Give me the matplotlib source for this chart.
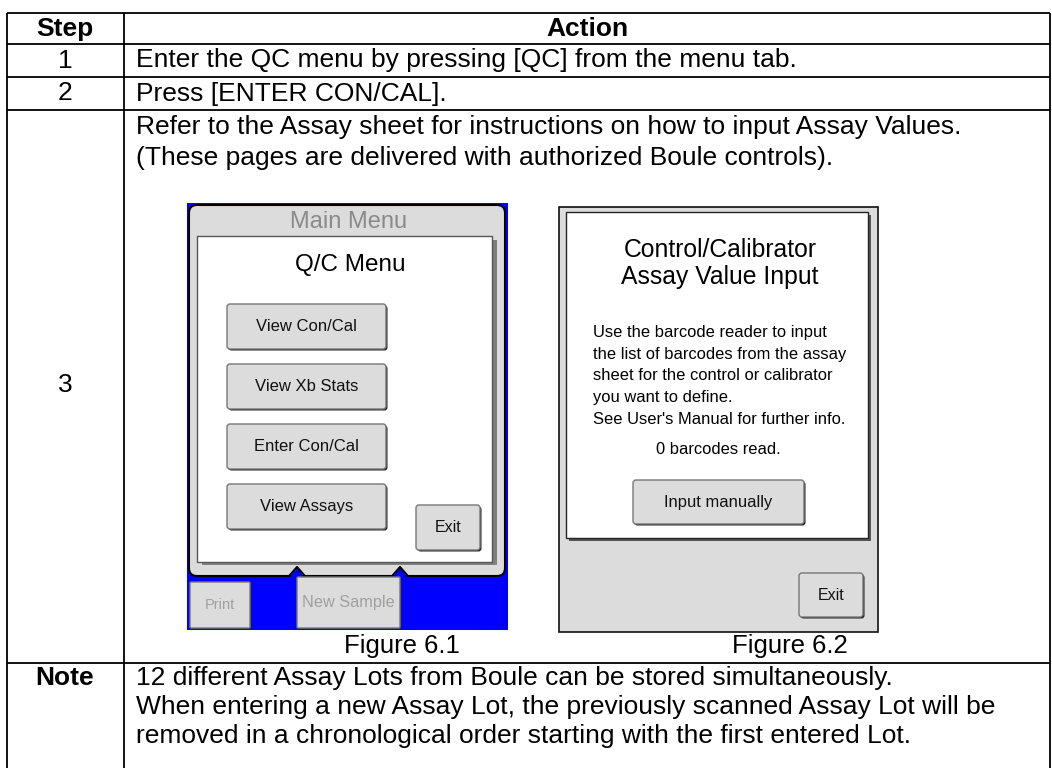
import matplotlib.pyplot as plt
from matplotlib.patches import FancyBboxPatch, Rectangle, Polygon

plt.rcParams['font.family'] = ['Liberation Sans', 'DejaVu Sans']

header = ["Step", "Action"]
steps = ["1", "2", "3"]
actions = [
    "Enter the QC menu by pressing [QC] from the menu tab.",
    "Press [ENTER CON/CAL].",
    "Refer to the Assay sheet for instructions on how to input Assay Values.\n"
    "(These pages are delivered with authorized Boule controls).",
]
note_label = "Note"
note_lines = [
    "12 different Assay Lots from Boule can be stored simultaneously.",
    "When entering a new Assay Lot, the previously scanned Assay Lot will be",
    "removed in a chronological order starting with the first entered Lot.",
]
captions = ["Figure 6.1", "Figure 6.2"]

qc_title = "Main Menu"
qc_menu = "Q/C Menu"
qc_buttons = ["View Con/Cal", "View Xb Stats", "Enter Con/Cal", "View Assays"]
qc_bottom = ["Print", "New Sample"]
exit_label = "Exit"

cal_title = ["Control/Calibrator", "Assay Value Input"]
cal_body = [
    "Use the barcode reader to input",
    "the list of barcodes from the assay",
    "sheet for the control or calibrator",
    "you want to define.",
]
cal_info = "See User's Manual for further info."
cal_count = "0 barcodes read."
cal_button = "Input manually"

GRAY = '#dcdcdc'


def button(ax, x0, y0, x1, y1, label, fs=12, color='#111111', r=3):
    # drop shadow + face
    ax.add_patch(FancyBboxPatch((x0 + 1.5, y0 + 1.5), x1 - x0, y1 - y0,
                                boxstyle=f"round,pad=0,rounding_size={r}",
                                fc='#222222', ec='none', zorder=4))
    ax.add_patch(FancyBboxPatch((x0, y0), x1 - x0, y1 - y0,
                                boxstyle=f"round,pad=0,rounding_size={r}",
                                fc=GRAY, ec='#777777', lw=1.0, zorder=5))
    ax.text((x0 + x1) / 2, (y0 + y1) / 2, label, ha='center', va='center',
            fontsize=fs, color=color, zorder=6)


fig = plt.figure(figsize=(10.52, 7.68), dpi=100)
ax = fig.add_axes([0, 0, 1, 1])
ax.set_xlim(0, 1052)
ax.set_ylim(768, 0)
ax.axis('off')

# table grid
row_y = [13, 44, 77, 110, 663]
col_x = [7, 124, 1050]
for y in row_y:
    ax.plot([col_x[0], col_x[-1]], [y, y], color='black', lw=1.3, solid_capstyle='butt')
for x in col_x:
    ax.plot([x, x], [row_y[0], 790], color='black', lw=1.3, solid_capstyle='butt')

fs = 19
ax.text(65, 29, header[0], ha='center', va='center', fontsize=fs, fontweight='bold')
ax.text(587, 29, header[1], ha='center', va='center', fontsize=fs, fontweight='bold')
for i, (s, a) in enumerate(zip(steps[:2], actions[:2])):
    yc = (row_y[i + 1] + row_y[i + 2]) / 2
    ax.text(65, yc, s, ha='center', va='center', fontsize=fs)
    ax.text(136, yc, a, ha='left', va='center', fontsize=fs)
ax.text(65, 385, steps[2], ha='center', va='center', fontsize=fs)
for i, line in enumerate(actions[2].split("\n")):
    ax.text(136, 127 + i * 31, line, ha='left', va='center', fontsize=fs)

ax.text(65, 678, note_label, ha='center', va='center', fontsize=fs, fontweight='bold')
for i, line in enumerate(note_lines):
    ax.text(136, 678 + i * 29, line, ha='left', va='center', fontsize=fs)

# Figure 6.1 screenshot
ax.add_patch(Rectangle((187, 203), 321, 427, fc='#0000ff', ec='none', zorder=1))
ax.add_patch(FancyBboxPatch((189, 205), 316, 371, boxstyle="round,pad=0,rounding_size=8",
                            fc=GRAY, ec='black', lw=1.5, zorder=2))
for nx in [297, 400]:
    ax.add_patch(Polygon([(nx - 7, 577), (nx, 567), (nx + 7, 577)], closed=True,
                         fc='#0000ff', ec='none', zorder=2.5))
    ax.plot([nx - 7, nx, nx + 7], [575, 567, 575], color='black', lw=1.5, zorder=2.6)
ax.text(349, 222, qc_title, ha='center', va='center', fontsize=17, color='#8a8a8a', zorder=3)
ax.add_patch(Rectangle((202, 240), 295, 325, fc='#808080', ec='none', zorder=2.7))
ax.add_patch(Rectangle((197, 236), 295, 326, fc='white', ec='#555555', lw=1.0, zorder=3))
ax.text(350, 265, qc_menu, ha='center', va='center', fontsize=17.5, zorder=4)
for i, lab in enumerate(qc_buttons):
    y0 = 304 + i * 60
    button(ax, 227, y0, 386, y0 + 45, lab)
button(ax, 416, 505, 480, 550, exit_label, fs=11.5)
button(ax, 190, 582, 250, 628, qc_bottom[0], fs=10.5, color='#a0a0a0', r=1)
button(ax, 297, 577, 400, 628, qc_bottom[1], fs=11.7, color='#a0a0a0', r=1)

# Figure 6.2 screenshot
ax.add_patch(Rectangle((559, 207), 319, 425, fc=GRAY, ec='#111111', lw=1.2, zorder=1))
ax.add_patch(Rectangle((569, 215), 302, 326, fc='#555555', ec='none', zorder=1.5))
ax.add_patch(Rectangle((566, 212), 302, 326, fc='white', ec='#222222', lw=1.0, zorder=2))
for i, line in enumerate(cal_title):
    ax.text(720, 250 + i * 27, line, ha='center', va='center', fontsize=17.8, zorder=3)
for i, line in enumerate(cal_body):
    ax.text(593, 333 + i * 21.5, line, ha='left', va='center', fontsize=11.9, zorder=3)
ax.text(593, 420, cal_info, ha='left', va='center', fontsize=11.9, zorder=3)
ax.text(718, 450, cal_count, ha='center', va='center', fontsize=11.9, zorder=3)
button(ax, 633, 480, 804, 524, cal_button, fs=11.9)
button(ax, 799, 573, 863, 617, exit_label, fs=11.5)

ax.text(402, 646, captions[0], ha='center', va='center', fontsize=18.5)
ax.text(790, 646, captions[1], ha='center', va='center', fontsize=18.5)

plt.savefig('out.png', dpi=100)
